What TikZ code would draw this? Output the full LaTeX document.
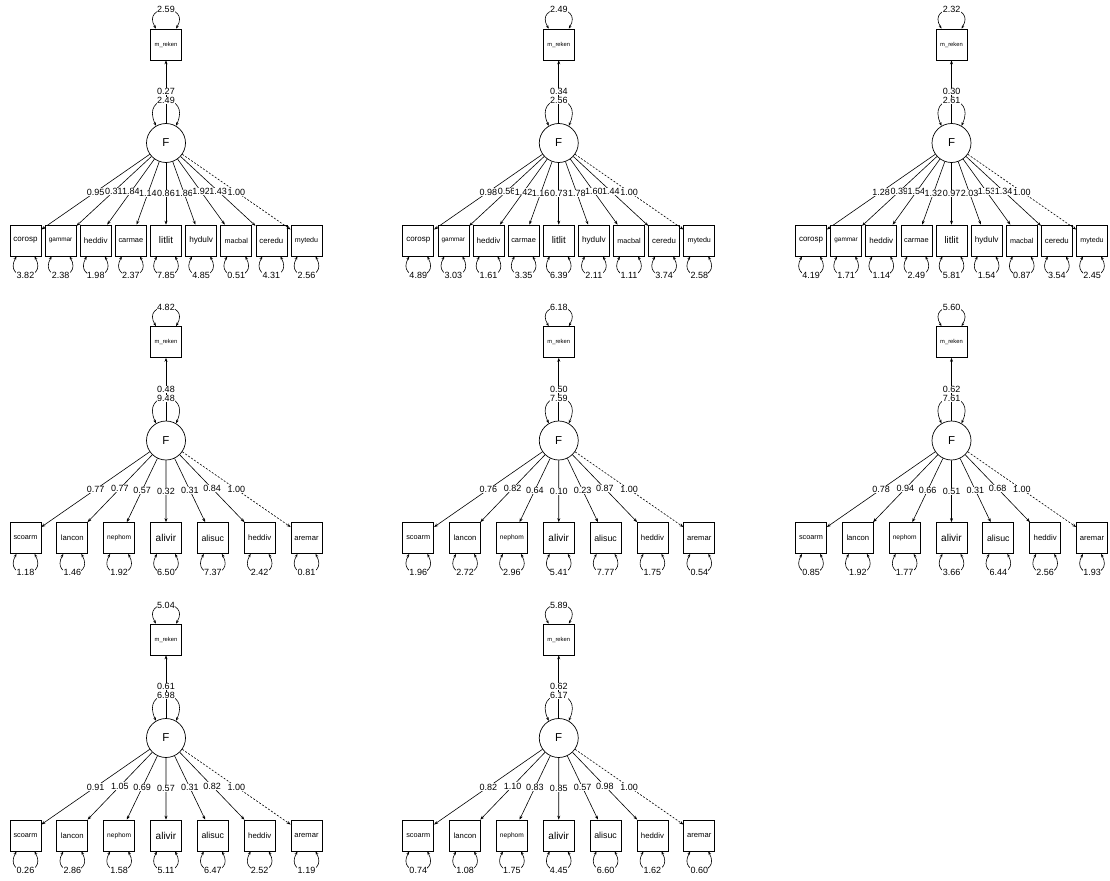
\documentclass[tikz,border=0pt]{standalone}
\usepackage{fontspec}
\setmainfont{Liberation Sans}
\usetikzlibrary{arrows.meta}
\tikzset{
  obs/.style={draw, fill=white, minimum width=31pt, minimum height=31pt, inner sep=0pt, line width=0.7pt},
  lat/.style={draw, circle, fill=white, minimum size=39pt, inner sep=0pt, line width=0.7pt, font=\fontsize{11.5}{12}\selectfont},
  edge/.style={line width=0.6pt, -{Stealth[length=4pt,width=3pt]}},
  vloop/.style={line width=0.6pt, {Stealth[length=3.5pt,width=2.6pt]}-{Stealth[length=3.5pt,width=2.6pt]}},
  elab/.style={fill=white, inner sep=0.4pt, font=\fontsize{9}{9}\selectfont},
  vlab/.style={fill=white, inner sep=0.4pt, font=\fontsize{9}{9}\selectfont},
  fixed/.style={dash pattern=on 2pt off 1.6pt},
  free/.style={}
}
% #1 id, #2 cx, #3 y0, #4 spacing, #5 mvar, #6 reg, #7 fvar, #8 items
\newcommand{\sempanel}[8]{%
  \node[obs, font=\fontsize{5.8}{6}\selectfont] (#1m) at (#2, #3+44.5) {m\_reken};
  \node[lat] (#1F) at (#2, #3+143) {F};
  \draw[edge] (#1F) -- node[elab]{#6} (#1m);
  \draw[vloop] ([xshift=-10pt]#1m.north) .. controls +(-15,-25) and +(15,-25) .. node[vlab]{#5} ([xshift=10pt]#1m.north);
  \draw[vloop] (#1F.120) .. controls +(-16,-33.3) and +(16,-33.3) .. node[vlab]{#7} (#1F.60);
  \foreach \nm/\sz/\ld/\rs/\st [count=\i] in {#8} {
    \node[obs, font=\fontsize{\sz}{\sz}\selectfont] (#1b\i) at ({#2-140.5+(\i-1)*#4}, #3+240.5) {\nm};
    \draw[edge, \st] (#1F) -- node[elab]{\ld} (#1b\i);
    \draw[vloop] ([xshift=-9pt]#1b\i.south) .. controls +(-14,25.3) and +(14,25.3) .. node[vlab]{\rs} ([xshift=9pt]#1b\i.south);
  }%
}
\begin{document}
\begin{tikzpicture}[x=1pt,y=-1pt]
\useasboundingbox (0,0) rectangle (1110,880);
% Row 1
\sempanel{a}{166}{0}{35.125}{2.59}{0.27}{2.49}{corosp/8/0.95/3.82/free, gammar/6.4/0.31/2.38/free, heddiv/8/1.84/1.98/free, carmae/7.4/1.14/2.37/free, litlit/9.7/0.86/7.85/free, hydulv/8.2/1.86/4.85/free, macbal/7.2/1.92/0.51/free, ceredu/7.8/1.43/4.31/free, mytedu/7.1/1.00/2.56/fixed}
\sempanel{b}{558.75}{0}{35.125}{2.49}{0.34}{2.56}{corosp/8/0.98/4.89/free, gammar/6.4/0.56/3.03/free, heddiv/8/1.42/1.61/free, carmae/7.4/1.16/3.35/free, litlit/9.7/0.73/6.39/free, hydulv/8.2/1.78/2.11/free, macbal/7.2/1.60/1.11/free, ceredu/7.8/1.44/3.74/free, mytedu/7.1/1.00/2.58/fixed}
\sempanel{c}{951.5}{0}{35.125}{2.32}{0.30}{2.61}{corosp/8/1.28/4.19/free, gammar/6.4/0.39/1.71/free, heddiv/8/1.54/1.14/free, carmae/7.4/1.32/2.49/free, litlit/9.7/0.97/5.81/free, hydulv/8.2/2.03/1.54/free, macbal/7.2/1.53/0.87/free, ceredu/7.8/1.34/3.54/free, mytedu/7.1/1.00/2.45/fixed}
% Row 2
\sempanel{d}{166}{297.5}{46.833}{4.82}{0.48}{9.48}{scoarm/7.3/0.77/1.18/free, lancon/7.7/0.77/1.46/free, nephom/6.6/0.57/1.92/free, alivir/10/0.32/6.50/free, alisuc/8.8/0.31/7.37/free, heddiv/7.8/0.84/2.42/free, aremar/7.6/1.00/0.81/fixed}
\sempanel{e}{558.75}{297.5}{46.833}{6.18}{0.50}{7.59}{scoarm/7.3/0.76/1.96/free, lancon/7.7/0.82/2.72/free, nephom/6.6/0.64/2.96/free, alivir/10/0.10/5.41/free, alisuc/8.8/0.23/7.77/free, heddiv/7.8/0.87/1.75/free, aremar/7.6/1.00/0.54/fixed}
\sempanel{f}{951.5}{297.5}{46.833}{5.60}{0.62}{7.61}{scoarm/7.3/0.78/0.85/free, lancon/7.7/0.94/1.92/free, nephom/6.6/0.66/1.77/free, alivir/10/0.51/3.66/free, alisuc/8.8/0.31/6.44/free, heddiv/7.8/0.68/2.56/free, aremar/7.6/1.00/1.93/fixed}
% Row 3
\sempanel{g}{166}{595}{46.833}{5.04}{0.61}{6.98}{scoarm/7.3/0.91/0.26/free, lancon/7.7/1.05/2.86/free, nephom/6.6/0.69/1.58/free, alivir/10/0.57/5.11/free, alisuc/8.8/0.31/6.47/free, heddiv/7.8/0.82/2.52/free, aremar/7.6/1.00/1.19/fixed}
\sempanel{h}{558.75}{595}{46.833}{5.89}{0.62}{6.17}{scoarm/7.3/0.82/0.74/free, lancon/7.7/1.10/1.08/free, nephom/6.6/0.83/1.75/free, alivir/10/0.85/4.45/free, alisuc/8.8/0.57/6.60/free, heddiv/7.8/0.98/1.62/free, aremar/7.6/1.00/0.60/fixed}
\end{tikzpicture}
\end{document}
